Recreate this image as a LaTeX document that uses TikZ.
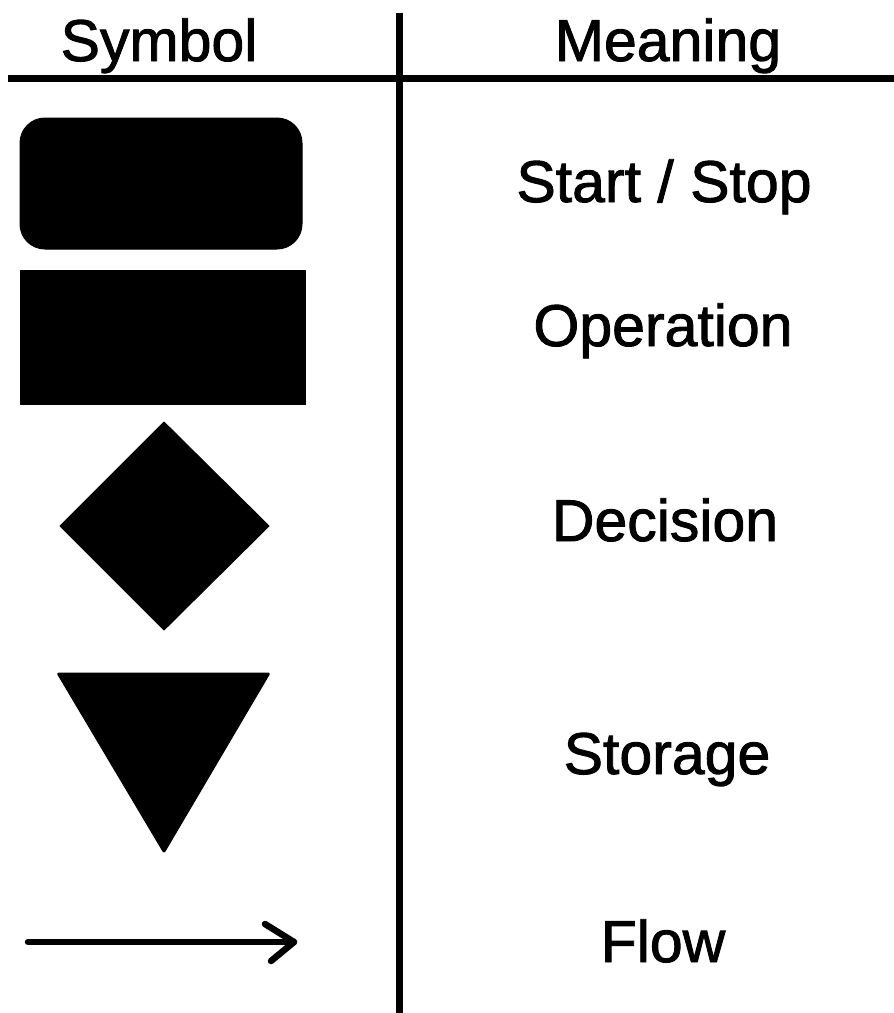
\documentclass[tikz,border=0pt]{standalone}
\usepackage{fontspec}
\setmainfont[FakeBold=1.5]{Liberation Sans}
\begin{document}
\begin{tikzpicture}[x=1pt,y=-1pt,
  rule/.style={line width=7pt, black},
  label/.style={anchor=base, inner sep=0pt, font=\fontsize{59}{70}\selectfont},
  sym/.style={fill=black, draw=black, line width=1pt, line join=round},
  flow/.style={line width=6.5pt, line cap=round, line join=round}]
\useasboundingbox (0,0) rectangle (894,1013);
% table rules
\coordinate (vtop) at (399,13);
\coordinate (vbot) at (399,1013);
\coordinate (hl) at (8,78);
\coordinate (hr) at (894,78);
\draw[rule] (vtop) -- (vbot);
\draw[rule] (hl) -- (hr);
% headers
\node[label] (hsym) at (159,61) {Symbol};
\node[label] (hmean) at (668,61) {Meaning};
% symbols
\draw[sym, rounded corners=25pt] (20,118) rectangle (302,249);
\draw[sym] (20,270) rectangle (305,404);
\draw[sym] (164,422) -- (269,526) -- (164,630) -- (60,526) -- cycle;
\draw[sym, rounded corners=2pt] (57,673) -- (270,673) -- (164,853) -- cycle;
\coordinate (fa) at (28,942);
\coordinate (fb) at (294,942);
\coordinate (fu) at (265,924);
\coordinate (fd) at (271,961);
\draw[flow] (fa) -- (fb);
\draw[flow] (fu) -- (fb) -- (fd);
% meanings
\node[label] (m1) at (664,202) {Start / Stop};
\node[label] (m2) at (663,346) {Operation};
\node[label] (m3) at (665,541) {Decision};
\node[label] (m4) at (667,774) {Storage};
\node[label] (m5) at (663,962) {Flow};
\end{tikzpicture}
\end{document}
